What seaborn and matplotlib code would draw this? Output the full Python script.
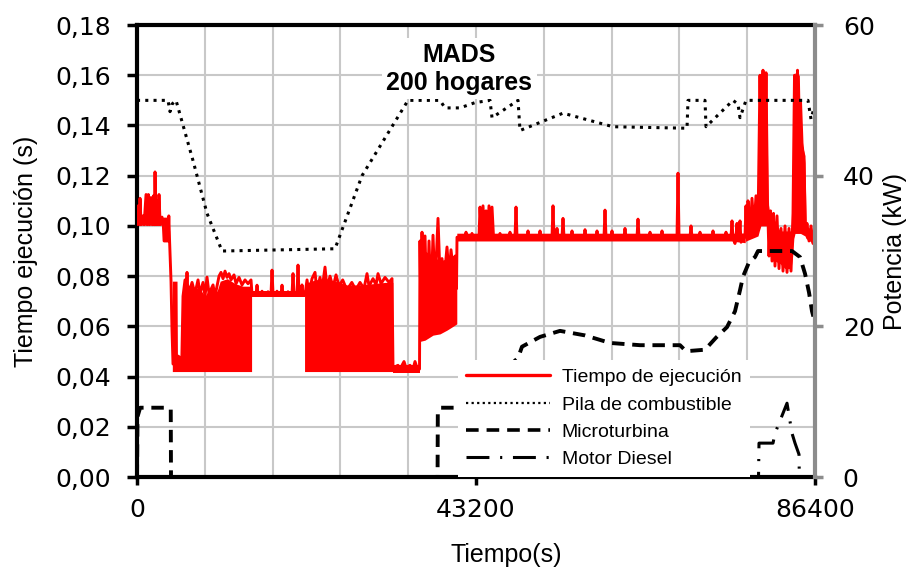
import numpy as np
import pandas as pd
import matplotlib
matplotlib.use("Agg")
import matplotlib.pyplot as plt
from matplotlib.lines import Line2D
from matplotlib.ticker import FixedLocator, MultipleLocator
import seaborn as sns

# ---------------------------------------------------------------------------
# Execution time of the MADS controller over one day (s), line trace
exec_t = [0, 150, 300, 382, 520, 760, 900, 1150, 1300, 1450, 1600, 1800, 1950, 2100,
          2200, 2294, 2420, 2560, 2680, 2800, 2950, 3186, 3350, 3450, 3950, 4050, 4150,
          4333, 4460, 4587, 5700, 5862, 6117, 6240, 6371, 6500, 7010, 7390, 7773, 8028,
          8410, 8665, 8920, 9175, 9685, 9940, 10450, 10705, 10960, 11214, 11469, 11724,
          11979, 12361, 12616, 12998, 13380, 13762, 14145, 14527,
          14654, 15165, 15292, 15420, 15800, 15929, 16056, 16565, 16693, 16820, 17075,
          17203, 17331, 17712, 17840, 17968, 18350, 18477, 18604, 19113, 19241, 19370,
          19751, 19879, 20006, 20388, 20516, 20643, 20898, 21026, 21154, 21281,
          21408, 21663, 21918, 22300, 22682, 22937, 23320, 23575, 23957, 24212, 24594,
          24977, 25359, 25741, 26210, 26741, 27372, 27881, 28417, 28926, 29309, 29564,
          30074, 30456, 30711, 31093, 31603, 32112, 32495,
          32622, 33259, 33514, 34024, 34279, 34788, 35170, 35425, 35680, 36000,
          36062, 36190, 36317, 36500, 36700, 36955, 37210, 37464, 37719, 37974, 38356,
          38610, 38865, 39120, 39502, 39757, 40012, 40267, 40522, 40714,
          40777, 41160, 41800, 41925, 42052, 42560, 42689, 42816, 43581, 43708, 43900,
          44090, 44280, 44473, 44660, 44855, 45040, 45238, 45430, 46130, 46257, 46384,
          47404, 47531, 47658, 48169, 48296, 48423, 49698, 49825, 49952, 51227, 51354,
          51481, 52884, 53011, 53138, 53393, 53520, 53648, 54158, 54285, 54412, 55305,
          55432, 55560, 56962, 57089, 57216, 58491, 58618, 58745, 59510, 59637, 59764,
          60401, 60528, 60655, 62058, 62185, 62312, 63715, 63842, 63969, 65245, 65372,
          65499, 66774, 66901, 67029, 68813, 68940, 69067, 70469, 70596, 70723, 71616,
          71743, 71870, 73273, 73400, 73527, 74929, 75056, 75184, 75694, 75821, 75948,
          76203, 76330, 76458, 76585, 76713, 76840, 76967, 77477,
          77604, 77732, 77859, 78114, 78369, 78624, 78879, 79134, 79389, 79580, 79771,
          79962, 80154, 80345, 80536, 80727, 80919, 81110, 81301, 81556, 81811, 82066,
          82320, 82575, 82830, 83085, 83340, 83595, 83786, 83977, 84168, 84359, 84550,
          84742, 84997, 85188, 85379, 85634, 85889, 86143, 86400]
exec_s = [0.1005, 0.108, 0.1005, 0.111, 0.1005, 0.104, 0.1005, 0.1125, 0.1005, 0.1125,
          0.1005, 0.110, 0.1005, 0.112, 0.1005, 0.1215, 0.1005, 0.110, 0.1005, 0.1125,
          0.1005, 0.1035, 0.1005, 0.094, 0.094, 0.104, 0.094, 0.078, 0.0585, 0.045,
          0.045, 0.072, 0.0785, 0.072, 0.0815, 0.072, 0.0775, 0.073, 0.0785, 0.073,
          0.0775, 0.072, 0.0796, 0.073, 0.0765, 0.072, 0.080, 0.0815, 0.079, 0.082,
          0.0795, 0.081, 0.0785, 0.0805, 0.077, 0.0795, 0.0765, 0.0785, 0.077, 0.0785,
          0.0728, 0.0728, 0.0764, 0.0728, 0.0728, 0.074, 0.0728, 0.0728, 0.0738, 0.0728,
          0.0728, 0.0824, 0.0728, 0.0728, 0.074, 0.0728, 0.0728, 0.0764, 0.0728, 0.0728,
          0.0738, 0.0728, 0.0728, 0.081, 0.0728, 0.0728, 0.0844, 0.0728, 0.0728, 0.0765,
          0.0728, 0.0728,
          0.0725, 0.0785, 0.073, 0.079, 0.0815, 0.074, 0.0795, 0.0745, 0.0836, 0.075,
          0.080, 0.0755, 0.0805, 0.076, 0.0785, 0.0745, 0.0775, 0.0745, 0.0775, 0.075,
          0.081, 0.076, 0.079, 0.0765, 0.081, 0.077, 0.0795, 0.0775, 0.079,
          0.0435, 0.0445, 0.043, 0.046, 0.0435, 0.0445, 0.043, 0.046, 0.0435, 0.043,
          0.094, 0.060, 0.0975, 0.062, 0.096, 0.065, 0.094, 0.070, 0.0963, 0.075, 0.103,
          0.080, 0.087, 0.078, 0.0916, 0.080, 0.0905, 0.083, 0.088, 0.075,
          0.0955, 0.0955, 0.0955, 0.0975, 0.0955, 0.0955, 0.097, 0.0955, 0.0955, 0.1075,
          0.0955, 0.108, 0.096, 0.106, 0.096, 0.108, 0.096, 0.1075, 0.0955, 0.0955,
          0.097, 0.0955, 0.0955, 0.0975, 0.0955, 0.0955, 0.1075, 0.0955, 0.0955, 0.098,
          0.0955, 0.0955, 0.098, 0.0955, 0.0955, 0.108, 0.0955, 0.0955, 0.099, 0.0955,
          0.0955, 0.103, 0.0955, 0.0955, 0.098, 0.0955, 0.0955, 0.0985, 0.0955, 0.0955,
          0.098, 0.0955, 0.0955, 0.1063, 0.0955, 0.0955, 0.098, 0.0955, 0.0955, 0.099,
          0.0955, 0.0955, 0.1027, 0.0955, 0.0955, 0.0975, 0.0955, 0.0955, 0.098, 0.0955,
          0.0955, 0.121, 0.0955, 0.0955, 0.100, 0.0955, 0.0955, 0.0975, 0.0955, 0.0955,
          0.098, 0.0955, 0.0955, 0.0975, 0.0955, 0.0955, 0.102, 0.095, 0.093, 0.0955,
          0.101, 0.094, 0.0955, 0.102, 0.0935, 0.096,
          0.108, 0.095, 0.110, 0.097, 0.111, 0.099, 0.112, 0.100, 0.160, 0.120, 0.162,
          0.125, 0.161, 0.110, 0.088, 0.106, 0.086, 0.105, 0.084, 0.104, 0.083, 0.099,
          0.082, 0.100, 0.0815, 0.099, 0.082, 0.105, 0.160, 0.130, 0.162, 0.120, 0.150,
          0.133, 0.125, 0.098, 0.101, 0.094, 0.100, 0.093, 0.096]

# Envelope of the fast oscillations of the execution time (s), per stretch
band_seg = [0] * 14 + [1] * 16 + [2] * 2 + [3] * 9 + [4] * 2 + [5] * 7 + [6] * 3 + [7] * 23
band_t = [0, 300, 600, 900, 1100, 1900, 2100, 2500, 2900, 3000, 3400, 3410, 3950, 4150,
          4500, 5097, 5150, 5734, 5800, 6371, 7000, 8000, 8665, 9300, 10200, 10600,
          11500, 12500, 13500, 14600,
          14600, 21400,
          21350, 22682, 23957, 25231, 26741, 28417, 30074, 31603, 32600,
          32600, 36050,
          36050, 36700, 37719, 38610, 39502, 40267, 40750,
          40750, 76000, 77477,
          77477, 77604, 78369, 79134, 79300, 79500, 80250, 80400, 80664, 81301, 81938,
          82575, 83340, 83550, 83700, 83850, 84400, 84550, 85124, 85250, 85700, 86100,
          86400]
band_lo = [0.1003] * 11 + [0.094] * 3 + \
          [0.042] * 16 + \
          [0.0716] * 2 + \
          [0.042] * 9 + \
          [0.0415] * 2 + \
          [0.054, 0.0545, 0.0565, 0.057, 0.0585, 0.060, 0.061] + \
          [0.0940, 0.0940, 0.0933] + \
          [0.0933, 0.094, 0.095, 0.096, 0.098, 0.100, 0.100, 0.098, 0.088, 0.086, 0.085,
           0.083, 0.083, 0.088, 0.095, 0.097, 0.097, 0.097, 0.096, 0.095, 0.094, 0.0935,
           0.094]
band_hi = [0.106, 0.110, 0.104, 0.104, 0.112, 0.112, 0.110, 0.111, 0.110, 0.1035,
           0.1035, 0.1035, 0.1035, 0.098,
           0.078, 0.078, 0.049, 0.048, 0.0745, 0.077, 0.0755, 0.075, 0.072, 0.0755,
           0.074, 0.078, 0.079, 0.077, 0.076, 0.076,
           0.0740, 0.0740,
           0.077, 0.0785, 0.079, 0.078, 0.0765, 0.0765, 0.077, 0.0775, 0.0775,
           0.0445, 0.0445,
           0.092, 0.090, 0.088, 0.086, 0.087, 0.085, 0.085,
           0.0971, 0.0971, 0.0972,
           0.0972, 0.104, 0.108, 0.110, 0.158, 0.161, 0.160, 0.110, 0.104, 0.102, 0.098,
           0.098, 0.098, 0.102, 0.158, 0.161, 0.160, 0.135, 0.128, 0.100, 0.099, 0.098,
           0.097]

# Power of each generator (kW)
fc_t = [0, 3950, 4205, 4460, 4970, 7136, 8920, 10832, 25231, 28672, 34534, 38610,
        39247, 41160, 43071, 44983, 45238, 48551, 48806, 54285, 60657, 70087, 70214,
        72380, 72508, 75948, 76585, 76840, 77604, 85506, 85889, 86400]
fc_kw = [50, 50, 48.5, 49.5, 50, 42, 35, 30, 30.3, 40, 50, 50, 49, 49, 49.7, 50, 47.7,
         50, 46, 48.3, 46.5, 46.3, 50, 50, 46.5, 50, 49.5, 47.7, 50, 50, 47.5, 49.5]

mt_t = [0, 60, 400, 3950, 4300, 4330, 38300, 38330, 38700, 41160, 45000, 48551, 49060,
        51354, 53903, 57089, 60275, 64097, 69195, 69960, 72380, 73782, 75184, 76203,
        76840, 77222, 77987, 78751, 79134, 83467, 84487, 85124, 85634, 86016, 86400]
mt_kw = [0, 8, 9.2, 9.2, 9.0, 0, 0, 8.5, 9.2, 9.2, 12.5, 15.8, 17.3, 18.6, 19.4, 18.8,
         17.8, 17.5, 17.5, 16.7, 16.9, 18.5, 19.9, 22, 24.8, 26.6, 28.5, 29.2, 30, 30,
         29.2, 27, 24.5, 22, 20.5]

md_t = [0, 79200, 79261, 81047, 81300, 82830, 83467, 83850, 84359, 84400, 86400]
md_kw = [0, 0, 4.5, 4.5, 5.8, 9.8, 5.8, 4.5, 3.0, 0, 0]

series_labels = ["Tiempo de ejecución", "Pila de combustible", "Microturbina",
                 "Motor Diesel"]
left_ticks = [0.00, 0.02, 0.04, 0.06, 0.08, 0.10, 0.12, 0.14, 0.16, 0.18]
right_ticks = [0, 20, 40, 60]
x_ticks = [0, 43200, 86400]

# ---------------------------------------------------------------------------
sns.set_style("white")
plt.rcParams["font.family"] = ["Liberation Sans", "DejaVu Sans"]
plt.rcParams.update({"text.color": "black", "axes.labelcolor": "black",
                     "xtick.color": "black", "ytick.color": "black"})

RED = "#ff0000"
GRID = "#c8c8c8"
GREY = "#8c8c8c"
TICK_FONT = "DejaVu Sans"

fig = plt.figure(figsize=(9.08, 5.78), dpi=100)
ax = fig.add_axes([0.1509, 0.1747, 0.7467, 0.7820])
ax2 = ax.twinx()

# execution time: dense oscillation envelope + line trace
bands = pd.DataFrame({"seg": band_seg, "t": band_t, "lo": band_lo, "hi": band_hi})
for _, g in bands.groupby("seg"):
    ax.fill_between(g["t"], g["lo"], g["hi"], color=RED, lw=0, zorder=2)
sns.lineplot(x=exec_t, y=exec_s, ax=ax, color=RED, lw=2.1, estimator=None,
             sort=False, legend=False, zorder=3)

# generator powers on the secondary axis
fc_style = (0, (1, 1.7))
mt_style = (0, (3.2, 2.0))
md_style = (0, (7.5, 3.5, 0.7, 3.5))
sns.lineplot(x=fc_t, y=fc_kw, ax=ax2, color="black", lw=2.2, linestyle=fc_style,
             estimator=None, sort=False, legend=False)
sns.lineplot(x=mt_t, y=mt_kw, ax=ax2, color="black", lw=2.8, linestyle=mt_style,
             estimator=None, sort=False, legend=False)
sns.lineplot(x=md_t, y=md_kw, ax=ax2, color="black", lw=2.2, linestyle=md_style,
             estimator=None, sort=False, legend=False)

# axes ranges, ticks and grid
ax.set_xlim(0, 86400)
ax.set_ylim(0, 0.18)
ax2.set_ylim(0, 60)

ax.xaxis.set_major_locator(FixedLocator(x_ticks))
ax.xaxis.set_minor_locator(MultipleLocator(8640))
ax.set_xticklabels([str(v) for v in x_ticks], fontfamily=TICK_FONT, fontsize=18)
ax.yaxis.set_major_locator(FixedLocator(left_ticks))
ax.set_yticklabels([f"{v:.2f}".replace(".", ",") for v in left_ticks],
                   fontfamily=TICK_FONT, fontsize=18)
ax2.yaxis.set_major_locator(FixedLocator(right_ticks))
ax2.set_yticklabels([str(v) for v in right_ticks], fontfamily=TICK_FONT, fontsize=18)

ax.set_axisbelow(True)
ax.grid(True, which="both", axis="x", color=GRID, lw=1.5)
ax.grid(True, which="major", axis="y", color=GRID, lw=1.5)
ax2.grid(False)

ax.tick_params(axis="x", which="major", direction="out", length=6, width=2.5,
               color="black", labelcolor="black", pad=9, bottom=True)
ax.tick_params(axis="x", which="minor", length=0)
ax.tick_params(axis="y", direction="out", length=7, width=2.5, color="black",
               labelcolor="black", pad=12, left=True)
ax2.tick_params(axis="y", direction="out", length=6, width=2.5, color=GREY,
                labelcolor="black", pad=14, right=True)

for name in ("left", "bottom", "top"):
    ax.spines[name].set_color("black")
    ax.spines[name].set_linewidth(3)
ax.spines["right"].set_visible(False)
for name in ("left", "bottom", "top"):
    ax2.spines[name].set_visible(False)
ax2.spines["right"].set_color(GREY)
ax2.spines["right"].set_linewidth(3)

# axis titles
ax.set_xlabel("Tiempo(s)", fontsize=18, color="black")
ax.xaxis.set_label_coords(0.544, -0.146)
ax.set_ylabel("Tiempo ejecución (s)", fontsize=18, color="black")
ax.yaxis.set_label_coords(-0.146, 0.5)
ax2.set_ylabel("Potencia (kW)", fontsize=18, color="black")
ax2.yaxis.set_label_coords(1.10, 0.5)

# scenario caption
ax2.text(0.4749, 0.903, "MADS\n200 hogares", transform=ax2.transAxes,
         ha="center", va="center", multialignment="center", fontsize=18,
         fontweight="bold", color="black", zorder=10, linespacing=1.2,
         bbox=dict(boxstyle="square,pad=0.18", fc="white", ec="none"))

# legend
handles = [
    Line2D([], [], color=RED, lw=2.4),
    Line2D([], [], color="black", lw=1.6, linestyle=(0, (1, 1.5))),
    Line2D([], [], color="black", lw=2.6, linestyle=(0, (3.5, 2.2))),
    Line2D([], [], color="black", lw=2.2, linestyle=md_style),
]
leg = ax2.legend(handles, series_labels, loc="lower left",
                 bbox_to_anchor=(0.473, 0.0), borderaxespad=0, fontsize=14,
                 frameon=True, fancybox=False, framealpha=1, edgecolor="none",
                 facecolor="white", handlelength=4.3, handletextpad=0.6,
                 labelspacing=0.5, borderpad=0.45)
for txt in leg.get_texts():
    txt.set_color("black")
leg.set_zorder(20)

fig.savefig("out.png", dpi=100)
